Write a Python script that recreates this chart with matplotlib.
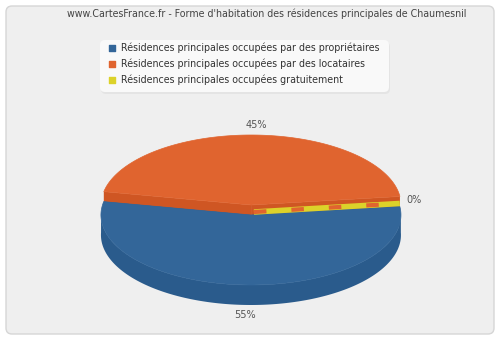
import numpy as np
import matplotlib
matplotlib.use("Agg")
import matplotlib.pyplot as plt
from matplotlib.patches import Polygon, FancyBboxPatch

# data
title = "www.CartesFrance.fr - Forme d'habitation des résidences principales de Chaumesnil"
labels = ["Résidences principales occupées par des propriétaires",
          "Résidences principales occupées par des locataires",
          "Résidences principales occupées gratuitement"]
values = [55, 45, 0]
top_colors = ["#336699", "#e0642f", "#dcd22a"]
side_colors = ["#2a5b8c", "#cf5623", "#c8be1e"]

# pie geometry (pixels)
cx, cy = 251, 210
rx, ry = 150, 70
depth = 20
start = 7.0
explode = 5

fig = plt.figure(figsize=(5, 3.4), dpi=100)
fig.patch.set_facecolor("white")
ax = fig.add_axes([0, 0, 1, 1])
ax.set_xlim(0, 500)
ax.set_ylim(340, 0)
ax.axis("off")

ax.add_patch(FancyBboxPatch((6, 6), 488, 328, boxstyle="round,pad=0,rounding_size=6",
                            fc="#efefef", ec="#d6d6d6", lw=1))
ax.text(267, 14, title, ha="center", va="center", fontsize=6.85, color="#444444")

# legend
ax.add_patch(FancyBboxPatch((101, 42), 289, 52, boxstyle="round,pad=0,rounding_size=5",
                            fc="#e4e4e4", ec="none"))
ax.add_patch(FancyBboxPatch((100, 40), 289, 52, boxstyle="round,pad=0,rounding_size=5",
                            fc="#f9f9f9", ec="none"))
for i, lab in enumerate(labels):
    y = 48 + 16 * i
    ax.scatter([112], [y], marker="s", s=16, color=top_colors[i], zorder=3)
    ax.text(121, y, lab, ha="left", va="center", fontsize=6.85, color="#333333")

# slice angles (clockwise from start)
total = sum(values)
bounds = []
a = start
for v in values:
    b = a - 360 * v / total
    bounds.append((b, a))
    a = b


def rim(c, angs):
    t = np.radians(angs)
    return np.column_stack([c[0] + rx * np.cos(t), c[1] - ry * np.sin(t)])


centers = []
for (a0, a1) in bounds:
    mid = np.radians((a0 + a1) / 2)
    centers.append((cx + explode * np.cos(mid) * 0.3, cy - explode * np.sin(mid)))

order = [1, 0]  # back slice first
for i in order:
    a0, a1 = bounds[i]
    c = centers[i]
    # radial walls
    for ang in (a0, a1):
        p = rim(c, [ang])[0]
        ax.add_patch(Polygon([c, p, (p[0], p[1] + depth), (c[0], c[1] + depth)],
                             closed=True, fc=side_colors[i], ec="none"))
    # outer wall, front part
    angs = np.linspace(a0, a1, 200)
    front = angs[np.sin(np.radians(angs)) <= 0.05]
    if len(front) > 1:
        pts = rim(c, front)
        poly = np.vstack([pts, pts[::-1] + [0, depth]])
        ax.add_patch(Polygon(poly, closed=True, fc=side_colors[i], ec="none"))
    # top face
    pts = rim(c, angs)
    ax.add_patch(Polygon(np.vstack([[c], pts]), closed=True, fc=top_colors[i],
                         ec=top_colors[i], lw=0.5))

# zero slice: thin yellow strip on the boundary
a0, a1 = bounds[2]
c = centers[0]
p = rim(c, [a1])[0]
ax.plot([c[0] + 3, p[0]], [c[1] - 3, p[1] - 3], color=top_colors[2], lw=4,
        solid_capstyle="butt", zorder=3)
ax.plot([c[0] + 3, p[0]], [c[1] - 3, p[1] - 3], color=top_colors[1], lw=3,
        dashes=(3, 6), zorder=4)

# percentage labels
for i, (a0, a1) in enumerate(bounds):
    mid = (a0 + a1) / 2
    t = np.radians(mid)
    c = centers[i]
    x = cx + (rx + 14) * np.cos(t)
    y = c[1] - (ry + 10) * np.sin(t)
    if np.sin(t) < 0:
        y += depth
    pct = round(100 * values[i] / total)
    ax.text(x, y, f"{pct}%", ha="center", va="center", fontsize=7, color="#555555")

fig.savefig("out.png", dpi=100, facecolor="white")
